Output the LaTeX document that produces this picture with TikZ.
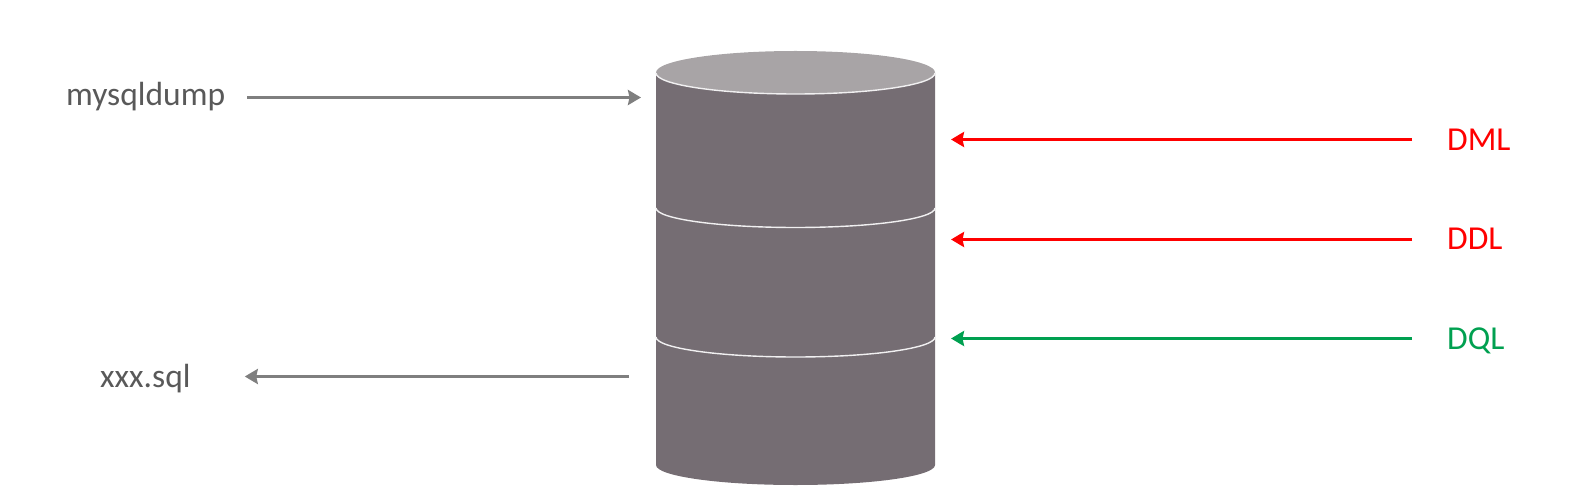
\documentclass[tikz,border=0pt]{standalone}
\usepackage{fontspec}
\setmainfont{Carlito}
\usetikzlibrary{arrows.meta}
\definecolor{dbbody}{HTML}{756D73}
\definecolor{dbtop}{HTML}{A8A4A6}
\definecolor{arrowgray}{HTML}{7F7F7F}
\definecolor{textgray}{HTML}{595959}
\definecolor{sqlred}{HTML}{FF0000}
\definecolor{sqlgreen}{HTML}{00A050}
\tikzset{
  label text/.style={inner sep=0pt,font=\fontsize{33.5}{40}\selectfont},
  flow/.style={line width=3.5pt,-{Stealth[length=13pt,width=15pt,inset=1.5pt]}},
  band/.style={draw=white!90!dbbody,line width=1.4pt},
}
\begin{document}
\begin{tikzpicture}[x=1pt,y=-1pt]
\useasboundingbox (0,0) rectangle (1586,494);
% cylinder
\fill[dbbody] (656,73) -- (656,465) arc[start angle=180,end angle=0,x radius=139.5,y radius=20] -- (935,73) -- cycle;
\fill[dbtop] (795.5,72.5) ellipse[x radius=139.5,y radius=21.5];
\draw[band] (656,73) arc[start angle=180,end angle=0,x radius=139.5,y radius=21];
\draw[band] (656,208) arc[start angle=180,end angle=0,x radius=139.5,y radius=19.5];
\draw[band] (656,337) arc[start angle=180,end angle=0,x radius=139.5,y radius=20];
% labels
\node[label text,text=textgray,anchor=west] (mysqldump) at (66,96.5) {mysqldump};
\node[label text,text=textgray,anchor=west] (xxxsql) at (100,379) {xxx.sql};
\node[label text,text=sqlred,anchor=west] (dml) at (1447,139.5) {DML};
\node[label text,text=sqlred,anchor=west] (ddl) at (1447,239) {DDL};
\node[label text,text=sqlgreen,anchor=west] (dql) at (1447,340.5) {DQL};
% free ends at the cylinder
\coordinate (dbin) at (641,97.5);
\coordinate (dbout) at (629,376.5);
\coordinate (dbdml) at (951,139.5);
\coordinate (dbddl) at (951,239.5);
\coordinate (dbdql) at (951,338.5);
% connectors
\draw[flow,arrowgray,shorten <=22pt] (mysqldump.east |- dbin) -- (dbin);
\draw[flow,arrowgray,shorten >=54pt] (dbout) -- (xxxsql.east |- dbout);
\draw[flow,sqlred,shorten <=35pt] (dml.west |- dbdml) -- (dbdml);
\draw[flow,sqlred,shorten <=35pt] (ddl.west |- dbddl) -- (dbddl);
\draw[flow,sqlgreen,shorten <=35pt] (dql.west |- dbdql) -- (dbdql);
\end{tikzpicture}
\end{document}
